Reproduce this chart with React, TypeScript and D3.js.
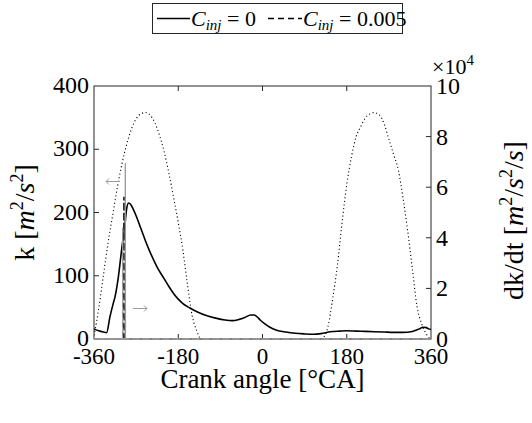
import React from "react";
import * as d3 from "d3";

// ---- data ----
const kAngles = [-360, -350, -340, -333, -326, -319, -315, -308, -301, -294, -290, -286, -282, -276, -269, -260, -250, -240, -226, -210, -200, -190, -180, -170, -155, -140, -120, -100, -80, -65, -50, -38, -25, -18, -10, -5, 5, 15, 30, 50, 70, 90, 108, 125, 145, 165, 180, 200, 220, 240, 260, 280, 300, 320, 335, 343, 350, 355, 360];
const kC0 = [16, 13, 11, 10, 35, 56, 67, 98, 141, 180, 207, 215, 213, 205, 193, 175, 155, 137, 115, 95, 83, 72, 63, 56, 49, 43, 37, 33, 30, 29, 31, 34, 38, 38, 34, 30, 24, 19, 14, 11, 9, 8, 7.5, 8.5, 11.5, 12.5, 13, 12.5, 12, 11.5, 11, 10.5, 10.5, 12, 16, 18.5, 18, 16, 15];

const kC005Angles = [-360, -296.2, -295.9, -295.6, 360];
const kC005 = [0, 0, 225, 0, 0];

const dkdtC0Angles = [-360, -293.4, -293.1, -292.8, 360];
const dkdtC0 = [0, 0, 69500, 0, 0];

const dkdtC005Angles = [-360, -299.0, -298.7, -298.4, 360];
const dkdtC005 = [0, 0, 44000, 0, 0];

const refAngles1 = [-362, -360, -350, -340, -330, -320, -310, -300, -290, -280, -270, -260, -250, -240, -230, -220, -210, -200, -190, -180, -170, -160, -150, -140, -133];
const refValues1 = [0, 1500, 12000, 25000, 38000, 49000, 60000, 69500, 77000, 83000, 87000, 89000, 89500, 88500, 85500, 80500, 74000, 65500, 56000, 46000, 35000, 21000, 9000, 3000, 0];
const refAngles2 = [125, 130, 140, 150, 160, 170, 180, 190, 200, 210, 220, 230, 238, 250, 260, 270, 280, 290, 300, 310, 320, 330, 340, 350, 358];
const refValues2 = [0, 500, 5000, 16000, 29000, 46000, 61000, 72000, 80000, 84000, 87500, 89000, 89500, 88500, 85000, 79000, 73000, 67000, 56000, 43000, 28000, 13000, 6000, 2000, 0];

const xTicks = [-360, -180, 0, 180, 360];
const kTicks = [0, 100, 200, 300, 400];
const dTicks = [0, 2, 4, 6, 8, 10];

const legendLabels = ["0", "0.005"];

// ---- layout ----
const W = 532, H = 423;
const L = 94, R = 431, T = 86, B = 339;
const FONT = "'Liberation Serif', 'DejaVu Serif', serif";
const AXC = "#262626";
const GRAY = "#9a9a9a";

export default function App() {
  const x = d3.scaleLinear().domain([-360, 360]).range([L, R]);
  const yk = d3.scaleLinear().domain([0, 400]).range([B, T]);
  const yd = d3.scaleLinear().domain([0, 100000]).range([B, T]);

  const lineK = d3.line<number>().x((_, i) => x(kAngles[i])).y((v) => yk(v)).curve(d3.curveMonotoneX);
  const mk = (angles: number[], ys: (v: number) => number, curve = d3.curveLinear) =>
    d3.line<number>().x((_, i) => x(angles[i])).y((v) => ys(v)).curve(curve);

  const tickLen = 5;

  return (
    <svg width={W} height={H} style={{ position: "absolute", left: 0, top: 0, background: "#fff", fontFamily: FONT }}>
      <defs>
        <clipPath id="plot">
          <rect x={L} y={T - 2} width={R - L} height={B - T + 4} />
        </clipPath>
      </defs>

      {/* legend */}
      <rect x={152.5} y={3.5} width={250} height={30} fill="#fff" stroke={AXC} strokeWidth={1} />
      <line x1={157} x2={190} y1={18.5} y2={18.5} stroke="#000" strokeWidth={1.5} />
      <text x={191} y={26} fontSize={22}>
        <tspan fontStyle="italic">C</tspan>
        <tspan fontStyle="italic" fontSize={15} dy={4}>inj</tspan>
        <tspan dy={-4}> = {legendLabels[0]}</tspan>
      </text>
      <line x1={268} x2={302} y1={18.5} y2={18.5} stroke="#000" strokeWidth={1.5} strokeDasharray="6 4" />
      <text x={303} y={26} fontSize={22}>
        <tspan fontStyle="italic">C</tspan>
        <tspan fontStyle="italic" fontSize={15} dy={4}>inj</tspan>
        <tspan dy={-4}> = {legendLabels[1]}</tspan>
      </text>

      {/* plot box */}
      <rect x={L} y={T} width={R - L} height={B - T} fill="none" stroke={AXC} strokeWidth={1} />

      {/* ticks */}
      {xTicks.slice(1, -1).map((t) => (
        <g key={"xt" + t}>
          <line x1={x(t)} x2={x(t)} y1={B} y2={B - tickLen} stroke={AXC} />
          <line x1={x(t)} x2={x(t)} y1={T} y2={T + tickLen} stroke={AXC} />
        </g>
      ))}
      {kTicks.slice(1, -1).map((t) => (
        <line key={"kt" + t} x1={L} x2={L + tickLen} y1={yk(t)} y2={yk(t)} stroke={AXC} />
      ))}
      {dTicks.slice(1, -1).map((t) => (
        <line key={"dt" + t} x1={R} x2={R - tickLen} y1={yd(t * 10000)} y2={yd(t * 10000)} stroke={AXC} />
      ))}

      {/* tick labels */}
      {xTicks.map((t) => (
        <text key={"xl" + t} x={x(t)} y={B + 25} fontSize={23} textAnchor="middle">{t}</text>
      ))}
      {kTicks.map((t) => (
        <text key={"kl" + t} x={L - 5} y={yk(t) + 7} fontSize={24} textAnchor="end">{t}</text>
      ))}
      {dTicks.map((t) => (
        <text key={"dl" + t} x={R + 5} y={yd(t * 10000) + 8} fontSize={24} textAnchor="start">{t}</text>
      ))}
      <text x={R + 1} y={74} fontSize={22}>
        ×10<tspan fontSize={15} dy={-9}>4</tspan>
      </text>

      {/* axis titles */}
      <text x={(L + R) / 2} y={388} fontSize={27} textAnchor="middle">Crank angle [°CA]</text>
      <text transform={`translate(34, ${(T + B) / 2}) rotate(-90)`} fontSize={28} textAnchor="middle">
        k [<tspan fontStyle="italic">m</tspan><tspan fontSize={18} dy={-11}>2</tspan>
        <tspan dy={11}>/</tspan><tspan fontStyle="italic">s</tspan><tspan fontSize={18} dy={-11}>2</tspan><tspan dy={11}>]</tspan>
      </text>
      <text transform={`translate(523, ${(T + B) / 2 + 8}) rotate(-90)`} fontSize={28} textAnchor="middle">
        dk/dt [<tspan fontStyle="italic">m</tspan><tspan fontSize={18} dy={-11}>2</tspan>
        <tspan dy={11}>/</tspan><tspan fontStyle="italic">s</tspan><tspan fontSize={18} dy={-11}>2</tspan><tspan dy={11}>/</tspan><tspan fontStyle="italic">s</tspan>]
      </text>

      {/* series */}
      <g clipPath="url(#plot)" fill="none">
        <path d={mk(refAngles1, yd, d3.curveMonotoneX)(refValues1) || ""} stroke="#000" strokeWidth={1.1} strokeDasharray="1.1 2.6" />
        <path d={mk(refAngles2, yd, d3.curveMonotoneX)(refValues2) || ""} stroke="#000" strokeWidth={1.1} strokeDasharray="1.1 2.6" />
        <path d={mk(kC005Angles, yk)(kC005) || ""} stroke="#000" strokeWidth={1.6} strokeDasharray="6 4" />
        <path d={lineK(kC0) || ""} stroke="#000" strokeWidth={1.6} />
        <path d={mk(dkdtC005Angles, yd)(dkdtC005) || ""} stroke={GRAY} strokeWidth={1.3} strokeDasharray="6 4" />
        <path d={mk(dkdtC0Angles, yd)(dkdtC0) || ""} stroke={GRAY} strokeWidth={1.3} />
      </g>

      {/* arrows */}
      <g stroke={GRAY} strokeWidth={1} fill="none">
        <path d="M120,181.5 L106,181.5 M109,178.5 L106,181.5 L109,184.5" />
        <path d="M133,308.5 L147,308.5 M144,305.5 L147,308.5 L144,311.5" />
      </g>
    </svg>
  );
}
